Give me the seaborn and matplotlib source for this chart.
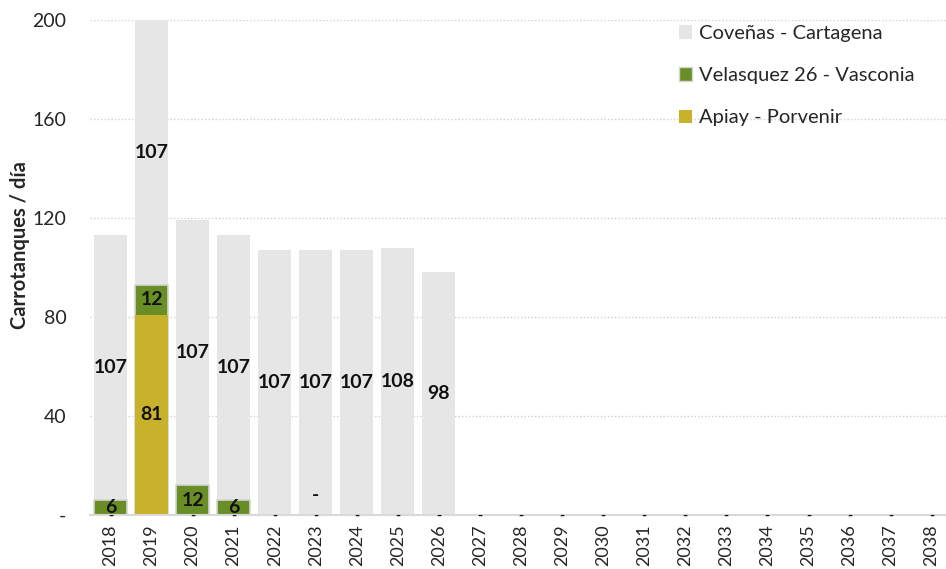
import matplotlib
matplotlib.use("Agg")
import matplotlib.pyplot as plt
import seaborn as sns
import pandas as pd
import numpy as np
from matplotlib.patches import Patch

years = [str(y) for y in range(2018, 2039)]
apiay = [0, 81, 0, 0, 0, 0, 0, 0, 0] + [0] * 12
velasquez = [6, 12, 12, 6, 0, 0, 0, 0, 0] + [0] * 12
covenas = [107, 107, 107, 107, 107, 107, 107, 108, 98] + [0] * 12

series_names = ["Coveñas - Cartagena", "Velasquez 26 - Vasconia", "Apiay - Porvenir"]
c_grey = "#E6E6E6"
c_green = "#6A8E26"
c_yellow = "#C9B22B"

y_ticks = [0, 40, 80, 120, 160, 200]
y_ticklabels = ["-", "40", "80", "120", "160", "200"]

sns.set_theme(style="white")
plt.rcParams["font.family"] = ["Lato", "DejaVu Sans"]

fig = plt.figure(figsize=(9.46, 5.69), dpi=100)
ax = fig.add_axes([90 / 946, 54 / 569, 862 / 946, 495 / 569])

a = np.array(apiay)
v = np.array(velasquez)
c = np.array(covenas)
df = pd.DataFrame({"year": years, "total": a + v + c, "mid": a + v, "low": a})

sns.barplot(data=df, x="year", y="total", order=years, color=c_grey, saturation=1,
            width=0.8, errorbar=None, linewidth=0, ax=ax)
sns.barplot(data=df, x="year", y="mid", order=years, color=c_green, saturation=1,
            width=0.8, errorbar=None, linewidth=1.2, edgecolor="#d4d4d4", ax=ax)
sns.barplot(data=df, x="year", y="low", order=years, color=c_yellow, saturation=1,
            width=0.8, errorbar=None, linewidth=0, ax=ax)

ax.set_xlim(-0.5, 20.5)
ax.set_ylim(0, 200)
ax.set_yticks(y_ticks)
ax.set_yticklabels(y_ticklabels, fontsize=14)
ax.tick_params(axis="y", length=0, pad=17)
ax.tick_params(axis="x", length=0, pad=7, labelsize=13, labelrotation=90)
ax.set_xlabel("")
ax.set_ylabel("Carrotanques / día", fontsize=14.5, fontweight="bold")
ax.yaxis.set_label_coords(-0.07, 0.545)

for yv in y_ticks[1:]:
    ax.axhline(yv, color="#d0d0d0", linestyle=(0, (1, 1.5)), linewidth=1, zorder=0)
ax.set_axisbelow(True)

for s in ["top", "right", "left"]:
    ax.spines[s].set_visible(False)
ax.spines["bottom"].set_color("#d9d9d9")
ax.spines["bottom"].set_linewidth(1.5)

# data labels
lab_kw = dict(ha="center", va="center", fontsize=14, fontweight="bold", color="#111111")
dash_kw = dict(ha="center", va="center", fontsize=10, fontweight="bold", color="#111111")
for i in range(len(years)):
    segs = [(apiay[i], 0), (velasquez[i], apiay[i]), (covenas[i], apiay[i] + velasquez[i])]
    dash_positions = set()
    for val, bottom in segs:
        if val > 0:
            ax.text(i, bottom + val / 2, f"{val}", **lab_kw)
        else:
            dash_positions.add(bottom)
    for bottom in dash_positions:
        ax.text(i, bottom - 0.5, "-", **dash_kw, clip_on=False)
# stray label in 2023
ax.text(years.index("2023"), 8, "-", **lab_kw)

handles = [Patch(facecolor=c_grey, edgecolor="none"),
           Patch(facecolor=c_green, edgecolor="#d4d4d4"),
           Patch(facecolor=c_yellow, edgecolor="none")]
fig.legend(handles, series_names, loc="upper left", bbox_to_anchor=(671 / 946, 1 - 17 / 569),
           frameon=False, fontsize=14.5, handlelength=0.65, handleheight=0.65,
           handletextpad=0.35, labelspacing=1.25, borderaxespad=0)

fig.savefig("out.png", dpi=100)
